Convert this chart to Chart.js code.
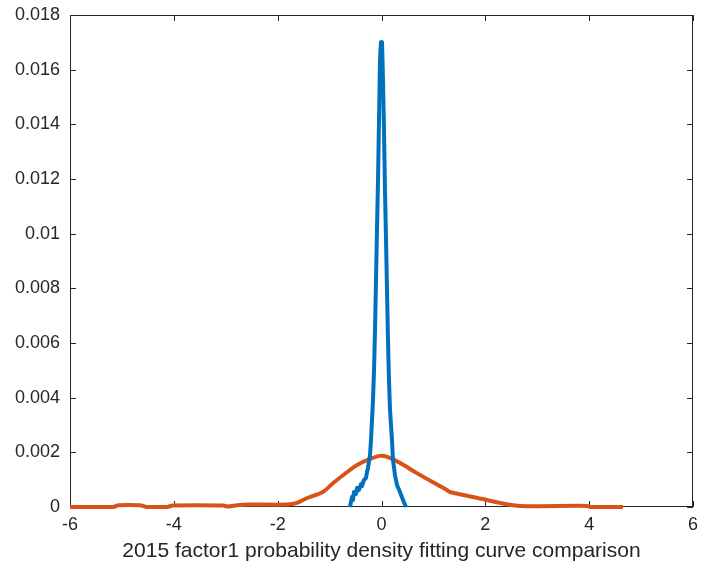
<!DOCTYPE html>
<html>
<head>
<meta charset="utf-8">
<script src="https://cdn.jsdelivr.net/npm/chart.js@4"></script>
<style>
  html, body { margin: 0; padding: 0; background: #fff; }
  #wrap { width: 704px; height: 573px; }
</style>
</head>
<body>
<div id="wrap"><canvas id="densityChart" width="704" height="573"></canvas></div>
<script>
/* data */

let xTicks = [-6, -4, -2, 0, 2, 4, 6];
let yTicks = [0, 0.002, 0.004, 0.006, 0.008, 0.01, 0.012, 0.014, 0.016, 0.018];

let blueX = [
    -0.607,-0.568,-0.549,-0.530,-0.491,-0.472,-0.434,-0.395,-0.376,-0.337,
    -0.299,-0.279,-0.260,-0.222,-0.202,-0.164,-0.144,-0.125,-0.106,-0.087,
    -0.067,-0.048,-0.029,-0.010,0.010,0.029,0.048,0.067,0.087,0.106,
    0.125,0.144,0.164,0.202,0.221,0.260,0.299,0.356,0.414,0.472
];
let blueY = [
    0,0.00037,0.00026,0.00055,0.00048,0.00070,0.00062,0.00084,0.00077,0.00099,
    0.00106,0.00128,0.00143,0.00190,0.00245,0.00391,0.00501,0.00648,0.00830,0.01013,
    0.01196,0.01416,0.01635,0.01701,0.01701,0.01562,0.01379,0.01160,0.00977,0.00794,
    0.00611,0.00465,0.00355,0.00245,0.00172,0.00117,0.00080,0.00055,0.00026,0
];

let orangeX = [
    -6.0,-5.17,-5.07,-4.65,-4.52,-4.13,-4.02,-3.05,-2.96,-2.82,
    -2.53,-1.82,-1.63,-1.43,-1.13,-0.93,-0.66,-0.47,-0.22,-0.03,
    0.11,0.36,0.68,1.26,1.32,1.95,2.28,2.67,3.96,4.02,4.65
];
let orangeY = [
    0,0,0.00006,0.00006,0,0,0.000055,0.000055,0.00002,0.000055,
    0.00009,0.00009,0.00015,0.00033,0.00055,0.00088,0.00128,0.00154,0.00176,0.00187,
    0.00183,0.00161,0.00124,0.00062,0.00055,0.00029,0.00015,0.00004,0.00004,0,0
];

function toPoints(xs, ys)
{
    return xs.map((x, i) => ({ x: x, y: ys[i] }));
}

const axisColor = '#262626';
const fontFamily = "Arial, 'Liberation Sans', Helvetica, sans-serif";

/* matlab style box with inward ticks */
const boxTicks = {
    id: 'boxTicks',
    beforeDatasetsDraw(chart)
    {
        const c = chart.ctx;
        const a = chart.chartArea;
        const xs = chart.scales.x;
        const ys = chart.scales.y;
        const len = 6;
        c.save();
        c.strokeStyle = axisColor;
        c.lineWidth = 1;
        c.beginPath();
        c.rect(a.left + 0.5, a.top + 0.5, a.right - a.left - 1, a.bottom - a.top - 1);
        xTicks.forEach(v => {
            const p = Math.round(xs.getPixelForValue(v)) + 0.5;
            c.moveTo(p, a.bottom);
            c.lineTo(p, a.bottom - len);
            c.moveTo(p, a.top);
            c.lineTo(p, a.top + len);
        });
        yTicks.forEach(v => {
            const p = Math.round(ys.getPixelForValue(v)) + 0.5;
            c.moveTo(a.left, p);
            c.lineTo(a.left + len, p);
            c.moveTo(a.right, p);
            c.lineTo(a.right - len, p);
        });
        c.stroke();
        c.restore();
    }
};

new Chart(document.getElementById('densityChart'), {
    type: 'line',
    data: {
        datasets: [
            {
                label: 'kernel',
                data: toPoints(blueX, blueY),
                borderColor: '#0072BD',
                borderWidth: 4,
                borderJoinStyle: 'round',
                pointRadius: 0,
                // small tension keeps chart.js off its fast path (it merges same-pixel points)
                tension: 0.02,
                clip: 4
            },
            {
                label: 'fit',
                data: toPoints(orangeX, orangeY),
                borderColor: '#D95319',
                borderWidth: 4,
                borderJoinStyle: 'round',
                pointRadius: 0,
                tension: 0.3,
                clip: 4
            }
        ]
    },
    options: {
        responsive: false,
        animation: false,
        layout: { padding: { top: 15, right: 11, left: 0, bottom: 0 } },
        plugins: {
            legend: { display: false },
            tooltip: { enabled: false }
        },
        scales: {
            x: {
                type: 'linear',
                min: -6,
                max: 6,
                afterFit(s) {
                    s.height = 66;
                    s.paddingLeft = 0;
                    s.paddingRight = 0;
                },
                afterBuildTicks(s) { s.ticks = xTicks.map(v => ({ value: v })); },
                grid: { display: false, drawTicks: false },
                border: { display: false },
                ticks: {
                    padding: 7,
                    color: axisColor,
                    font: { family: fontFamily, size: 18 },
                    callback: v => String(v)
                },
                title: {
                    display: true,
                    text: '2015 factor1 probability density fitting curve comparison',
                    color: axisColor,
                    font: { family: fontFamily, size: 21 },
                    padding: { top: 4, bottom: 9 }
                }
            },
            y: {
                min: 0,
                max: 0.018,
                afterFit(s) {
                    s.width = 70;
                    s.paddingTop = 0;
                    s.paddingBottom = 0;
                },
                afterBuildTicks(s) { s.ticks = yTicks.map(v => ({ value: v })); },
                grid: { display: false, drawTicks: false },
                border: { display: false },
                ticks: {
                    padding: 10,
                    color: axisColor,
                    font: { family: fontFamily, size: 18 },
                    callback: v => String(Math.round(v * 1000) / 1000)
                }
            }
        }
    },
    plugins: [boxTicks]
});
</script>
</body>
</html>
